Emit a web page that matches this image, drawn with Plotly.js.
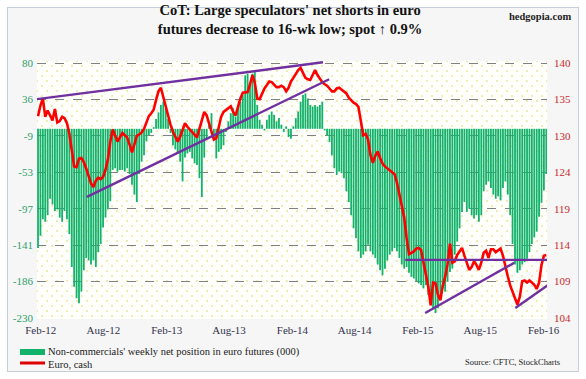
<!DOCTYPE html>
<html><head><meta charset="utf-8">
<script src="https://cdn.plot.ly/plotly-3.0.1.min.js"></script>
<style>
html,body{margin:0;padding:0;background:#ffffff;}
#frame{position:absolute;left:7px;top:7px;width:570px;height:363px;border:1px solid #c5cfdc;background:#f6f6f6;}
#plotbg{position:absolute;left:37px;top:61px;width:510px;height:258px;background-color:#fffffb;
 background-image:radial-gradient(circle,#f0eab4 0.7px,transparent 1.2px),radial-gradient(circle,#f0eab4 0.7px,transparent 1.2px);
 background-size:10px 10px;background-position:0 0,5px 5px;}
#chart{position:absolute;left:0;top:0;width:586px;height:379px;}
</style></head><body>
<div id="frame"></div><div id="plotbg"></div><div id="chart"></div>
<script>
// weekly observations starting on this date
const startDate = '2012-01-24';

// Non-commercials' weekly net position in euro futures (000)
const netPosition = [
-145,-130,-110,-113,-105,-85,-92,-100,-98,-108,
-113,-100,-110,-128,-168,-192,-206,-212,-198,-172,
-157,-160,-165,-160,-168,-150,-140,-120,-108,-98,
-88,-50,-48,-52,-50,-50,-52,-48,-55,-68,
-80,-89,-55,-40,-32,-15,-8,-5,2,12,
20,29,33,25,12,-5,-20,-25,-30,-40,
-64,-35,-30,-28,-36,-42,-44,-60,-83,-35,
-12,8,19,-12,-36,-28,-25,-20,-4,9,
19,25,15,29,33,41,65,67,53,67,
69,29,11,5,-2,11,17,21,17,9,
13,5,-4,3,-10,-12,3,13,21,33,
41,43,37,29,27,29,27,29,33,-2,
-8,-16,-32,-48,-56,-52,-54,-60,-76,-89,
-105,-121,-133,-149,-157,-153,-149,-141,-149,-153,
-157,-165,-172,-178,-170,-160,-153,-149,-145,-149,
-157,-165,-170,-168,-175,-180,-182,-185,-188,-190,
-194,-190,-202,-210,-218,-224,-218,-202,-194,-198,
-186,-174,-170,-153,-137,-121,-101,-89,-101,-97,
-105,-109,-105,-113,-105,-76,-68,-64,-72,-80,
-85,-82,-87,-72,-64,-80,-105,-140,-165,-175,
-172,-165,-162,-158,-150,-140,-132,-125,-107,-90,
-75,-55
];

// Euro, cash (x100)
const euroCash = [
132.5,134.0,135.0,132.4,133.3,132.5,131.9,133.5,131.6,131.8,
132.4,132.2,131.5,130.0,127.7,125.4,125.3,126.5,126.6,126.0,
125.1,123.9,123.0,122.5,123.4,123.8,123.6,123.9,124.9,126.4,
128.9,130.6,129.6,128.9,129.5,130.1,129.8,129.5,128.5,127.4,
128.5,129.7,129.9,130.2,130.7,131.7,132.5,132.9,133.4,134.8,
136.0,136.5,135.1,133.8,132.6,131.3,130.3,129.6,128.9,129.6,
130.5,131.5,131.0,130.6,130.2,129.9,129.5,130.7,131.9,133.1,
132.6,131.4,130.1,129.2,129.4,130.9,132.4,133.1,133.4,133.7,
133.9,133.1,132.6,133.8,135.0,135.8,135.8,135.9,137.0,138.3,
137.2,135.0,134.9,135.7,136.4,136.9,137.4,137.3,137.0,136.6,
136.6,136.8,136.6,136.0,136.5,137.4,137.9,138.5,139.0,139.3,
138.5,137.9,137.7,137.6,138.3,139.0,138.3,137.7,137.3,137.0,
136.8,136.4,136.0,136.0,136.4,136.5,136.2,136.0,135.7,135.1,
134.7,134.4,134.2,133.8,131.8,129.8,130.0,129.2,127.0,125.9,
126.9,127.5,126.6,125.8,125.4,125.1,124.9,124.6,124.3,123.1,
121.3,119.7,118.2,115.3,113.0,113.2,113.4,113.8,113.9,113.6,
112.0,110.5,108.4,105.8,109.0,108.9,107.3,106.5,108.5,109.8,
111.6,114.5,111.8,112.0,112.9,113.4,113.9,112.8,111.8,110.8,
111.2,112.0,111.5,110.8,111.8,113.2,113.5,112.5,113.7,113.7,
113.3,113.5,113.8,112.8,111.2,109.9,108.6,107.8,106.8,105.9,
107.0,109.2,109.3,109.0,109.3,109.0,108.7,108.1,109.0,111.5,
112.8,112.9
];

// x-axis tick labels
const xTickDates = ['2012-02-01','2012-08-01','2013-02-01','2013-08-01','2014-02-01','2014-08-01','2015-02-01','2015-08-01','2016-02-01'];
const xTickLabels = ['Feb-12','Aug-12','Feb-13','Aug-13','Feb-14','Aug-14','Feb-15','Aug-15','Feb-16'];
// left axis (net position) tick labels, bottom to top
const leftTickLabels = ['-230','-186','-141','-97','-53','-9','36','80'];
const leftMin = -230, leftMax = 80;
// right axis (euro) tick labels, bottom to top
const rightTickLabels = ['104','109','114','119','124','130','135','140'];
const rightMin = 104, rightMax = 140;

// hand-drawn trendlines on the euro (dates, euro values)
const trendUpperDates = ['2012-01-21','2014-05-01'];
const trendUpperVals  = [134.9, 140.1];
const trendLowerDates = ['2012-06-14','2014-05-19'];
const trendLowerVals  = [121.1, 137.7];
const trendFlatDates  = ['2014-12-26','2016-03-01'];
const trendFlatVals   = [112.2, 112.2];
const trendRise15Dates = ['2015-02-22','2015-11-08'];
const trendRise15Vals  = [104.7, 111.8];
const trendRise16Dates = ['2015-11-11','2016-02-21'];
const trendRise16Vals  = [105.4, 108.9];

function weekDates(n){
  const d0 = new Date(startDate + 'T00:00:00Z').getTime();
  const out = [];
  for (let i = 0; i < n; i++) out.push(new Date(d0 + i*7*864e5).toISOString().slice(0,10));
  return out;
}
function evenTicks(lo, hi, n){ const a=[]; for(let i=0;i<n;i++) a.push(lo + (hi-lo)*i/(n-1)); return a; }

const dates = weekDates(netPosition.length);
const serif = 'Liberation Serif, Times New Roman, serif';
const PURPLE = '#7030a0';

const lpx = (leftMax-leftMin)/255, rpx = (rightMax-rightMin)/255;

const traces = [
  {type:'bar', x:dates, y:netPosition, yaxis:'y', marker:{color:'#13b26a', line:{width:0}}, hoverinfo:'skip'},
  {type:'scatter', mode:'lines', x:dates, y:euroCash, yaxis:'y2', line:{color:'#ff0000', width:2.6}},
  {type:'scatter', mode:'lines', x:trendUpperDates, y:trendUpperVals, yaxis:'y2', line:{color:PURPLE, width:2.4}},
  {type:'scatter', mode:'lines', x:trendLowerDates, y:trendLowerVals, yaxis:'y2', line:{color:PURPLE, width:2.4}},
  {type:'scatter', mode:'lines', x:trendFlatDates, y:trendFlatVals, yaxis:'y2', line:{color:PURPLE, width:2.4}},
  {type:'scatter', mode:'lines', x:trendRise15Dates, y:trendRise15Vals, yaxis:'y2', line:{color:PURPLE, width:2.4}},
  {type:'scatter', mode:'lines', x:trendRise16Dates, y:trendRise16Vals, yaxis:'y2', line:{color:PURPLE, width:2.4}}
];

const px2paperX = p => (p-37)/510, px2paperY = p => (319-p)/258;

const layout = {
  width:586, height:379,
  margin:{l:37, r:39, t:61, b:60, pad:0},
  paper_bgcolor:'rgba(0,0,0,0)', plot_bgcolor:'rgba(0,0,0,0)',
  showlegend:false, bargap:0.25,
  title:{text:"<b>CoT: Large speculators' net shorts in euro<br>futures decrease to 16-wk low; spot \u2191 0.9%</b>",
         font:{family:serif, size:14.5, color:'#111111'}, x:0.495, xanchor:'center', xref:'container',
         y:1-15/379, yref:'container', yanchor:'top'},
  xaxis:{type:'date', range:['2012-01-21','2016-02-11'], tickmode:'array', tickvals:xTickDates, ticktext:xTickLabels,
         showgrid:false, zeroline:false, showline:false, ticks:'', ticklabelstandoff:3,
         tickfont:{family:serif, size:11, color:'#33334d'}},
  yaxis:{range:[leftMin-1*lpx, leftMax+2*lpx], tickmode:'array', tickvals:evenTicks(leftMin,leftMax,8), ticktext:leftTickLabels,
         showgrid:true, gridcolor:'#808080', griddash:'dash', gridwidth:1, zeroline:false, showline:false, ticks:'',
         ticklabelstandoff:3, tickfont:{family:serif, size:11, color:'#2e9e6c'}},
  yaxis2:{overlaying:'y', side:'right', range:[rightMin-1*rpx, rightMax+2*rpx], tickmode:'array',
         tickvals:evenTicks(rightMin,rightMax,8), ticktext:rightTickLabels, showgrid:false, zeroline:false, showline:false,
         ticks:'', ticklabelstandoff:6, tickfont:{family:serif, size:11, color:'#cc2a2a'}},
  shapes:[
    {type:'rect', xref:'paper', yref:'paper', x0:px2paperX(20), x1:px2paperX(45), y0:px2paperY(355), y1:px2paperY(349),
     fillcolor:'#13b26a', line:{width:0}},
    {type:'line', xref:'paper', yref:'paper', x0:px2paperX(20), x1:px2paperX(45), y0:px2paperY(363), y1:px2paperY(363),
     line:{color:'#e00000', width:3}}
  ],
  annotations:[
    {text:'<b>hedgopia.com</b>', xref:'paper', yref:'paper', x:px2paperX(573), y:px2paperY(17), xanchor:'right', yanchor:'middle',
     showarrow:false, font:{family:serif, size:10.5, color:'#222222'}},
    {text:"Non-commercials' weekly net position in euro futures (000)", xref:'paper', yref:'paper', x:px2paperX(46), y:px2paperY(352),
     xanchor:'left', yanchor:'middle', showarrow:false, font:{family:serif, size:10.5, color:'#1a1a1a'}},
    {text:'Euro, cash', xref:'paper', yref:'paper', x:px2paperX(46), y:px2paperY(364), xanchor:'left', yanchor:'middle',
     showarrow:false, font:{family:serif, size:10.5, color:'#1a1a1a'}},
    {text:'Source: CFTC, StockCharts', xref:'paper', yref:'paper', x:px2paperX(562), y:px2paperY(362), xanchor:'right', yanchor:'middle',
     showarrow:false, font:{family:serif, size:8.5, color:'#1a1a1a'}}
  ]
};

Plotly.newPlot('chart', traces, layout, {displayModeBar:false, staticPlot:true});
</script></body></html>
